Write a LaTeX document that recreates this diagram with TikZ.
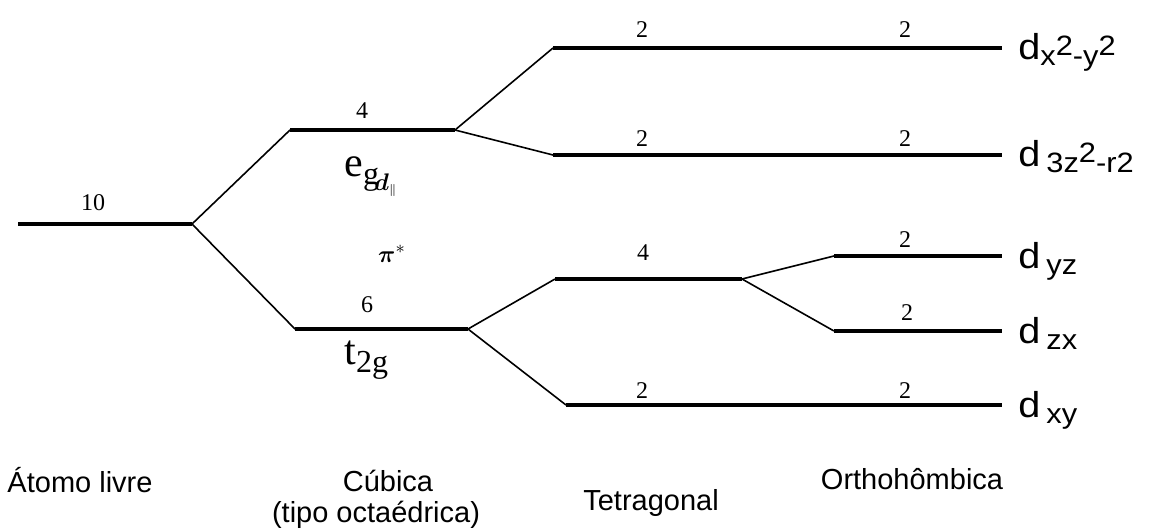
\documentclass[tikz,border=0pt]{standalone}
\usepackage{amsmath,amssymb,bm}
\usepackage{fontspec}
\setmainfont{Liberation Serif}
\newfontfamily\arialfont{Liberation Sans}
\newfontfamily\orbfont[FakeStretch=1.1]{Liberation Sans}
\usetikzlibrary{positioning}

\newcommand{\orbsub}[1]{\raisebox{-3pt}{\fontsize{14}{14}\selectfont #1}}
\newcommand{\orbsup}[1]{\raisebox{2pt}{\fontsize{14}{14}\selectfont #1}}

\tikzset{
  level/.style={line width=1.6pt},
  split/.style={line width=0.8pt},
  deg/.style={font=\fontsize{12}{13}\selectfont,inner sep=0pt},
  orb/.style={font=\orbfont\fontsize{18}{20}\selectfont,anchor=base west,inner sep=0pt},
  stage/.style={font=\arialfont\fontsize{14.5}{16}\selectfont,inner sep=0pt,anchor=base}
}

\begin{document}
\begin{tikzpicture}[x=0.5pt,y=-0.5pt]
\useasboundingbox (0,0) rectangle (1155,531);
% niveis
\coordinate (free-l) at (18,224);
\coordinate (free-r) at (192,224);
\coordinate (eg-l) at (290,130);
\coordinate (eg-r) at (455,130);
\coordinate (tg-l) at (295,329);
\coordinate (tg-r) at (468,329);
\coordinate (tx-l) at (553,48);
\coordinate (tz-l) at (553,155);
\coordinate (te-l) at (555,279);
\coordinate (te-r) at (742,279);
\coordinate (txy-l) at (566,405);
\coordinate (oyz-l) at (834,256);
\coordinate (ozx-l) at (834,331);
\coordinate (ox-r) at (1002,48);
\coordinate (oz-r) at (1002,155);
\coordinate (oyz-r) at (1002,256);
\coordinate (ozx-r) at (1002,331);
\coordinate (oxy-r) at (1002,405);

\draw[level] (free-l) -- (free-r);
\draw[level] (eg-l) -- (eg-r);
\draw[level] (tg-l) -- (tg-r);
\draw[level] (tx-l) -- (ox-r);
\draw[level] (tz-l) -- (oz-r);
\draw[level] (te-l) -- (te-r);
\draw[level] (txy-l) -- (oxy-r);
\draw[level] (oyz-l) -- (oyz-r);
\draw[level] (ozx-l) -- (ozx-r);

\draw[split] (free-r) -- (eg-l);
\draw[split] (free-r) -- (tg-l);
\draw[split] (eg-r) -- (tx-l);
\draw[split] (eg-r) -- (tz-l);
\draw[split] (tg-r) -- (te-l);
\draw[split] (tg-r) -- (txy-l);
\draw[split] (te-r) -- (oyz-l);
\draw[split] (te-r) -- (ozx-l);

% degenerescencias
\node[deg] (n10) at (93,203) {10};
\node[deg] (n4a) at (362,111) {4};
\node[deg] (n6) at (367,305) {6};
\node[deg] (n2a) at (642,30) {2};
\node[deg] (n2b) at (905,30) {2};
\node[deg] (n2c) at (642,139) {2};
\node[deg] (n2d) at (905,139) {2};
\node[deg] (n4b) at (643,253) {4};
\node[deg] (n2e) at (905,240) {2};
\node[deg] (n2f) at (907,313) {2};
\node[deg] (n2g) at (642,391) {2};
\node[deg] (n2h) at (905,391) {2};

% rotulos
\node[font=\fontsize{21}{22}\selectfont,inner sep=0pt,anchor=base west] (eg) at (344,176) {e\raisebox{-4pt}{\fontsize{16}{16}\selectfont g}};
\node[font=\fontsize{13}{14}\selectfont,inner sep=0pt] (dpar) at (386,185) {$\bm{d}_{\scriptscriptstyle\parallel}$};
\node[font=\fontsize{13}{14}\selectfont,inner sep=0pt] (pi) at (392,254) {$\bm{\pi}^{*}$};
\node[font=\fontsize{21}{22}\selectfont,inner sep=0pt,anchor=base west] (t2g) at (344,364) {t\raisebox{-4pt}{\fontsize{16}{16}\selectfont 2g}};

\node[orb] (dx2) at (1018,59) {d\orbsub{x}\orbsup{2}\orbsub{-y}\orbsup{2}};
\node[orb] (dz2) at (1018,166) {d\,\orbsub{3z}\orbsup{2}\orbsub{-r}\orbsub{2}};
\node[orb] (dyz) at (1018,268) {d\,\orbsub{yz}};
\node[orb] (dzx) at (1018,343) {d\,\orbsub{zx}};
\node[orb] (dxy) at (1018,417) {d\,\orbsub{xy}};

\node[stage] (livre) at (80,492) {Átomo livre};
\node[stage] (cub) at (388,491) {Cúbica};
\node[stage] (cub2) at (376,522) {(tipo octaédrica)};
\node[stage] (tetra) at (651,510) {Tetragonal};
\node[stage] (ortho) at (912,489) {Orthohômbica};
\end{tikzpicture}
\end{document}
